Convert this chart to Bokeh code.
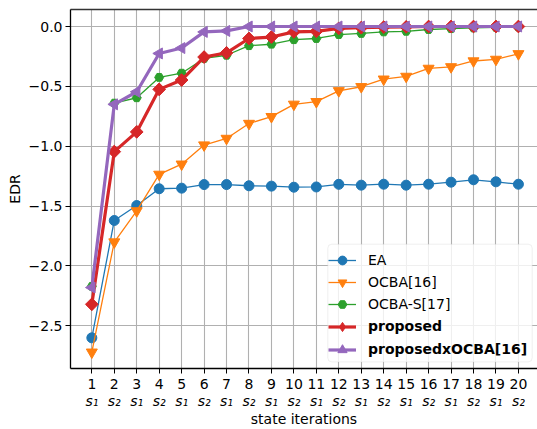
import numpy as np
from bokeh.plotting import figure
from bokeh.models import (Range1d, FixedTicker, LinearAxis, Legend, LegendItem,
                          BoxAnnotation)
from bokeh.embed import file_html
from bokeh.resources import INLINE

# ---------------- data ----------------
iterations = list(range(1, 21))
states = ["s₁", "s₂"] * 10
ea = [-2.60, -1.62, -1.495, -1.355, -1.35, -1.32, -1.32, -1.33, -1.333, -1.342,
      -1.34, -1.318, -1.325, -1.317, -1.325, -1.317, -1.30, -1.28, -1.297, -1.317]
ocba = [-2.72, -1.80, -1.54, -1.235, -1.15, -0.99, -0.935, -0.81, -0.753, -0.65,
        -0.628, -0.537, -0.503, -0.44, -0.417, -0.35, -0.337, -0.288, -0.275, -0.228]
ocba_s = [-2.17, -0.64, -0.595, -0.425, -0.39, -0.267, -0.24, -0.16, -0.148, -0.11,
          -0.10, -0.067, -0.058, -0.045, -0.04, -0.025, -0.018, -0.012, -0.008, -0.005]
proposed = [-2.32, -1.045, -0.88, -0.525, -0.447, -0.255, -0.22, -0.10, -0.088, -0.045,
            -0.04, -0.015, -0.01, -0.005, -0.003, 0.0, 0.0, 0.0, 0.0, 0.0]
prop_ocba = [-2.18, -0.65, -0.545, -0.225, -0.18, -0.045, -0.037, 0.0, 0.0, 0.0,
             0.0, 0.0, 0.0, 0.0, 0.0, 0.0, 0.0, 0.0, 0.0, 0.0]
y_ticks = [-2.5, -2.0, -1.5, -1.0, -0.5, 0.0]
y_tick_labels = ["−2.5", "−2.0", "−1.5", "−1.0", "−0.5", "0.0"]

FONT = "DejaVu Sans"

p = figure(width=537, height=429, output_backend="svg", toolbar_location=None,
           x_range=Range1d(0.05, 20.85), y_range=Range1d(-2.856, 0.142),
           min_border_left=70, min_border_right=0, min_border_top=9, min_border_bottom=60)
p.outline_line_color = None
p.background_fill_color = "white"
p.border_fill_color = "white"

# grid
p.xgrid.ticker = FixedTicker(ticks=iterations)
p.ygrid.ticker = FixedTicker(ticks=y_ticks)
for g in (p.xgrid, p.ygrid):
    g.grid_line_color = "#b0b0b0"
    g.grid_line_width = 1.1

# x axis: iteration numbers
xa = p.xaxis[0]
xa.ticker = FixedTicker(ticks=iterations)
xa.major_label_overrides = {i: str(i) for i in iterations}
xa.minor_tick_line_color = None
xa.major_tick_out = 5
xa.major_tick_in = 0
xa.major_label_standoff = 5
xa.axis_line_width = 1.3
xa.axis_line_color = "black"
xa.major_tick_line_color = "black"
xa.major_label_text_font = FONT
xa.major_label_text_font_size = "14px"
xa.major_label_text_color = "black"

# second x axis: states
xa2 = LinearAxis(ticker=FixedTicker(ticks=iterations),
                 major_label_overrides={i: s for i, s in zip(iterations, states)},
                 axis_line_color=None, major_tick_line_color=None,
                 minor_tick_line_color=None, major_tick_out=0, major_tick_in=0,
                 major_label_standoff=1,
                 major_label_text_font=FONT, major_label_text_font_size="14px",
                 major_label_text_font_style="italic", major_label_text_color="black",
                 axis_label="state iterations", axis_label_standoff=-1,
                 axis_label_text_font=FONT, axis_label_text_font_size="14px",
                 axis_label_text_font_style="normal", axis_label_text_color="black")
p.add_layout(xa2, "below")

# y axis
ya = p.yaxis[0]
ya.ticker = FixedTicker(ticks=y_ticks)
ya.major_label_overrides = {t: l for t, l in zip(y_ticks, y_tick_labels)}
ya.minor_tick_line_color = None
ya.major_tick_out = 5
ya.major_tick_in = 0
ya.major_label_standoff = 3
ya.axis_line_width = 1.3
ya.axis_line_color = "black"
ya.major_tick_line_color = "black"
ya.major_label_text_font = FONT
ya.major_label_text_font_size = "14px"
ya.major_label_text_color = "black"
ya.axis_label = "EDR"
ya.axis_label_standoff = 3
ya.axis_label_text_font = FONT
ya.axis_label_text_font_size = "14px"
ya.axis_label_text_font_style = "normal"
ya.axis_label_text_color = "black"

# top spine
top = LinearAxis(ticker=FixedTicker(ticks=[]), axis_line_color="#333333",
                 axis_line_width=1.6, major_tick_line_color=None,
                 minor_tick_line_color=None, major_label_text_font_size="0px",
                 major_tick_out=0, major_tick_in=0, major_label_standoff=0)
p.add_layout(top, "above")

# ---------------- series ----------------
series = [
    ("EA", ea, "#1f77b4", 1.3, "circle", 10, 0),
    ("OCBA[16]", ocba, "#ff7f0e", 1.3, "inverted_triangle", 11, 0),
    ("OCBA-S[17]", ocba_s, "#2ca02c", 1.3, "hex", 9, 0),
    ("proposed", proposed, "#d62728", 3.2, "square", 9, np.pi / 4),
    ("proposedxOCBA[16]", prop_ocba, "#9467bd", 3.2, "triangle", 11, np.pi / 2),
]
items_normal, items_bold = [], []
for name, ys, color, lw, marker, size, ang in series:
    lr = p.line(iterations, ys, line_color=color, line_width=lw)
    legend_marks = []
    if marker == "square":
        # diamond drawn underneath the rotated square, used for the legend key
        legend_marks.append(p.scatter(iterations, ys, marker="diamond", size=12,
                                      fill_color=color, line_color=color))
    sr = p.scatter(iterations, ys, marker=marker, size=size, angle=ang,
                   fill_color=color, line_color=color)
    if not legend_marks:
        legend_marks.append(sr)
    item = LegendItem(label=name, renderers=[lr] + legend_marks)
    (items_bold if lw > 2 else items_normal).append(item)

# legend background box (screen units relative to the frame)
box = BoxAnnotation(left=257.3, right=461.7, bottom=6.6, top=124.3,
                    left_units="screen", right_units="screen",
                    top_units="screen", bottom_units="screen",
                    fill_color="white", fill_alpha=0.8,
                    line_color="#cccccc", line_width=1, border_radius=4)
p.add_layout(box)

common = dict(border_line_color=None, background_fill_alpha=0, padding=4, spacing=0,
              glyph_width=28, label_standoff=12, margin=0,
              label_text_font=FONT, label_text_font_size="14px",
              label_text_color="black")
leg1 = Legend(items=items_normal, location=(258, 52.6), glyph_height=22, **common)
leg2 = Legend(items=items_bold, location=(258, 7.5), glyph_height=23,
              label_text_font_style="bold", **common)
p.add_layout(leg1)
p.add_layout(leg2)

open("out.html", "w").write(file_html(p, INLINE))
